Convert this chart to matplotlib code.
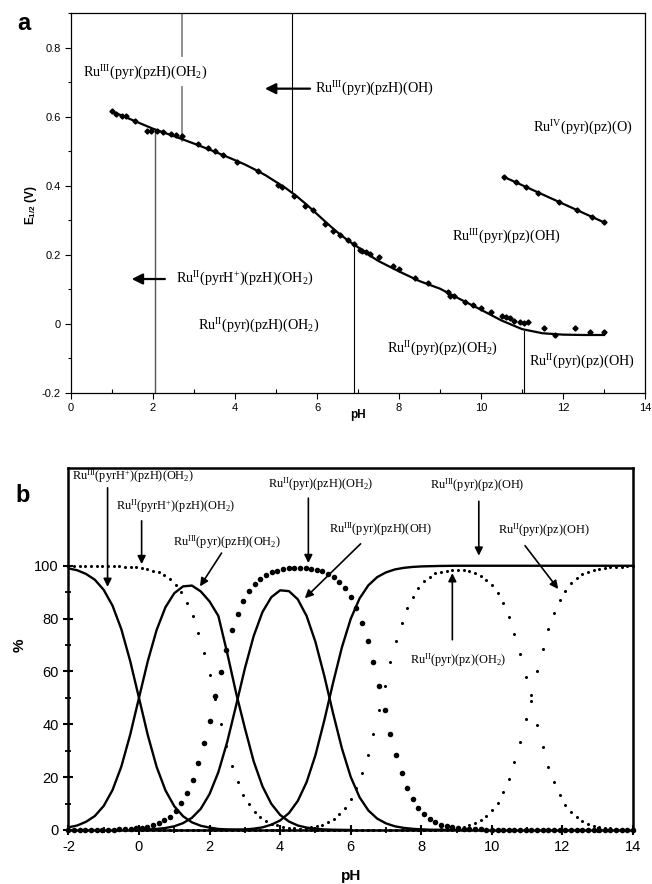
import matplotlib
matplotlib.use('Agg')
import matplotlib.pyplot as plt
from matplotlib.ticker import MultipleLocator, FixedLocator, FuncFormatter

plt.rcParams['font.family'] = 'Liberation Sans'
plt.rcParams['axes.unicode_minus'] = False
plt.rcParams['mathtext.fontset'] = 'custom'
plt.rcParams['mathtext.rm'] = 'Liberation Serif'
plt.rcParams['mathtext.it'] = 'Liberation Serif:italic'
plt.rcParams['mathtext.bf'] = 'Liberation Sans:bold'

# ---------------- Panel a data ----------------
ph_fit = [1.0, 1.5, 2.0, 2.5, 3.0, 3.5, 4.0, 4.25, 4.5, 4.75, 5.0, 5.25, 5.5,
          5.75, 6.0, 6.25, 6.5, 6.75, 7.0, 7.25, 7.5, 8.0, 8.5, 9.0, 9.5,
          10.0, 10.5, 11.0, 11.5, 12.0, 12.5, 13.0]
e_fit = [0.615, 0.590, 0.565, 0.544, 0.522, 0.499, 0.474, 0.461, 0.446, 0.430,
         0.411, 0.392, 0.370, 0.345, 0.318, 0.291, 0.265, 0.242, 0.222, 0.201,
         0.182, 0.152, 0.124, 0.102, 0.071, 0.041, 0.010, -0.015, -0.027,
         -0.031, -0.032, -0.032]
ph_pts = [1.00, 1.10, 1.25, 1.35, 1.55, 1.85, 1.95, 2.10, 2.25, 2.45, 2.55, 2.70,
          3.10, 3.35, 3.50, 3.70, 4.05, 4.55, 5.05, 5.15, 5.45, 5.70, 5.90, 6.20,
          6.40, 6.55, 6.75, 6.90, 7.05, 7.10, 7.20, 7.30, 7.50, 7.85, 8.00, 8.40,
          8.70, 9.20, 9.25, 9.35, 9.60, 9.80, 10.00, 10.25, 10.50, 10.60, 10.70,
          10.80, 10.95, 11.05, 11.15, 11.53, 11.80, 12.30, 12.67, 13.00]
e_pts = [0.617, 0.608, 0.603, 0.601, 0.588, 0.558, 0.557, 0.558, 0.556, 0.549,
         0.546, 0.545, 0.521, 0.510, 0.501, 0.488, 0.470, 0.443, 0.402, 0.395,
         0.370, 0.342, 0.330, 0.290, 0.270, 0.258, 0.244, 0.230, 0.215, 0.212,
         0.208, 0.202, 0.193, 0.168, 0.160, 0.132, 0.118, 0.092, 0.080, 0.082,
         0.063, 0.055, 0.045, 0.035, 0.022, 0.019, 0.016, 0.008, 0.005, 0.004,
         0.006, -0.011, -0.032, -0.011, -0.022, -0.022]
ph_fit2 = [10.55, 13.0]
e_fit2 = [0.426, 0.294]
ph_pts2 = [10.55, 10.85, 11.1, 11.4, 11.9, 12.35, 12.7, 13.0]
e_pts2 = [0.426, 0.410, 0.396, 0.380, 0.353, 0.329, 0.310, 0.294]

# pKa lines (pH) in panel a
pka_a = [2.05, 2.7, 5.39, 6.9, 11.05]

# ---------------- Panel b data ----------------
ph_grid = [-2.00, -1.84, -1.68, -1.52, -1.36, -1.20, -1.04, -0.88, -0.72, -0.56,
           -0.40, -0.24, -0.08, 0.08, 0.24, 0.40, 0.56, 0.72, 0.88, 1.04,
           1.20, 1.36, 1.52, 1.68, 1.84, 2.00, 2.16, 2.32, 2.48, 2.64,
           2.80, 2.96, 3.12, 3.28, 3.44, 3.60, 3.76, 3.92, 4.08, 4.24,
           4.40, 4.56, 4.72, 4.88, 5.04, 5.20, 5.36, 5.52, 5.68, 5.84,
           6.00, 6.16, 6.32, 6.48, 6.64, 6.80, 6.96, 7.12, 7.28, 7.44,
           7.60, 7.76, 7.92, 8.08, 8.24, 8.40, 8.56, 8.72, 8.88, 9.04,
           9.20, 9.36, 9.52, 9.68, 9.84, 10.00, 10.16, 10.32, 10.48, 10.64,
           10.80, 10.96, 11.12, 11.28, 11.44, 11.60, 11.76, 11.92, 12.08, 12.24,
           12.40, 12.56, 12.72, 12.88, 13.04, 13.20, 13.36, 13.52, 13.68, 13.84,
           14.00]
ru2_pyrH_pzH_OH2 = [100] * 8 + [
    99.9, 99.8, 99.7, 99.6, 99.4, 99.2, 98.8, 98.2, 97.5, 96.4, 94.9, 92.8,
    89.9, 86.0, 81.0, 74.7, 67.1, 58.6, 49.4, 40.3, 31.9, 24.4, 18.3, 13.4,
    9.7, 6.9, 4.9, 3.4, 2.4, 1.7, 1.2, 0.8, 0.6, 0.4, 0.3, 0.2, 0.1] + [0] * 56
ru2_pyr_pzH_OH2 = [0] * 8 + [
    0.1, 0.2, 0.3, 0.4, 0.6, 0.8, 1.2, 1.8, 2.5, 3.6, 5.1, 7.2, 10.1, 14.0,
    19.0, 25.3, 32.9, 41.4, 50.6, 59.7, 68.1, 75.5, 81.7, 86.6, 90.3, 93.1,
    95.1, 96.5, 97.5, 98.2, 98.7, 99.0, 99.1, 99.1, 99.0, 98.8, 98.4, 97.9,
    97.0, 95.8, 94.0, 91.6, 88.3, 84.0, 78.4, 71.5, 63.5, 54.6, 45.4, 36.5,
    28.5, 21.6, 16.0, 11.7, 8.4, 5.9, 4.2, 2.9, 2.0, 1.4, 1.0, 0.7, 0.5, 0.3,
    0.2, 0.2, 0.1] + [0] * 26
ru2_pyr_pz_OH2 = [0] * 40 + [
    0.3, 0.5, 0.7, 1.0, 1.4, 2.0, 2.9, 4.2, 5.9, 8.4, 11.6, 16.0, 21.6, 28.5,
    36.5, 45.4, 54.6, 63.5, 71.5, 78.4, 84.0, 88.3, 91.6, 94.1, 95.8, 97.1,
    97.7, 98.2, 98.4, 98.5, 98.3, 97.9, 97.2, 96.2, 94.7, 92.6, 89.7, 85.8,
    80.6, 74.2, 66.6, 58.0, 48.9, 39.8, 31.4, 24.0, 18.0, 13.2, 9.5, 6.8, 4.8,
    3.4, 2.3, 1.6, 1.1, 0.8, 0.6, 0.4, 0.3, 0.2, 0.1]
ru2_pyr_pz_OH = [0] * 66 + [
    0.3, 0.4, 0.6, 0.9, 1.2, 1.8, 2.6, 3.7, 5.2, 7.4, 10.3, 14.2, 19.4, 25.8,
    33.4, 42.0, 51.2, 60.2, 68.6, 76.0, 82.1, 86.9, 90.5, 93.3, 95.2, 96.7,
    97.7, 98.4, 98.9, 99.2, 99.5, 99.6, 99.7, 99.8, 99.9]

ph_s1 = [-2.0, -1.75, -1.5, -1.25, -1.0, -0.75, -0.5, -0.25, 0.0, 0.25, 0.5,
         0.75, 1.0, 1.25, 1.5, 1.75, 2.0, 2.25, 2.5, 2.75, 3.0]
ru3_pyrH_pzH_OH2 = [99.0, 98.3, 96.9, 94.7, 90.9, 84.9, 76.0, 64.0, 50.0, 35.9,
                    23.9, 15.0, 9.0, 5.2, 2.9, 1.6, 0.9, 0.4, 0.2, 0.1, 0.0]
ph_s2 = [-2.0, -1.75, -1.5, -1.25, -1.0, -0.75, -0.5, -0.25, 0.0, 0.25, 0.5,
         0.75, 1.0, 1.25, 1.5, 1.75, 2.0, 2.25, 2.5, 2.75, 3.0, 3.25, 3.5,
         3.75, 4.0, 4.25, 4.5, 4.75, 5.0, 5.25, 5.5, 5.75, 6.0]
ru3_pyr_pzH_OH2 = [1.0, 1.7, 3.1, 5.3, 9.1, 15.1, 24.0, 36.0, 50.0, 63.9, 75.7,
                   84.3, 89.6, 92.2, 92.5, 90.3, 86.5, 81.0, 67.0, 52.0, 38.6,
                   26.0, 16.5, 9.9, 5.7, 3.2, 1.7, 0.9, 0.5, 0.2, 0.1, 0.05, 0.0]
ph_s3 = [0.0, 0.25, 0.5, 0.75, 1.0, 1.25, 1.5, 1.75, 2.0, 2.25, 2.5, 2.75, 3.0,
         3.25, 3.5, 3.75, 4.0, 4.25, 4.5, 4.75, 5.0, 5.25, 5.5, 5.75, 6.0,
         6.25, 6.5, 6.75, 7.0, 7.25, 7.5, 7.75, 8.0, 8.25, 8.5, 8.75, 9.0]
ru3_pyr_pzH_OH = [0.1, 0.2, 0.4, 0.75, 1.4, 2.6, 4.6, 8.0, 13.6, 21.9, 33.3,
                  47.0, 61.1, 73.4, 82.5, 88.1, 90.7, 90.4, 87.3, 81.0, 71.2,
                  58.4, 44.2, 30.9, 20.1, 12.4, 7.4, 4.3, 2.5, 1.4, 0.8, 0.45,
                  0.25, 0.1, 0.08, 0.04, 0.0]
ph_s4 = [2.0, 2.5, 3.0, 3.25, 3.5, 3.75, 4.0, 4.25, 4.5, 4.75, 5.0, 5.25, 5.5,
         5.75, 6.0, 6.25, 6.5, 6.75, 7.0, 7.25, 7.5, 7.75, 8.0, 8.5, 9.0, 14.0]
ru3_pyr_pz_OH = [0.0, 0.05, 0.2, 0.5, 1.0, 2.0, 3.6, 6.4, 11.0, 18.1, 28.3,
                 41.4, 55.7, 69.1, 79.9, 87.6, 92.6, 95.7, 97.5, 98.6, 99.2,
                 99.55, 99.75, 99.92, 100, 100]

SERIF = 'Liberation Serif'

fig = plt.figure(figsize=(6.52, 8.84), dpi=100)

# ================= Panel a =================
axa = fig.add_axes([0.1089, 0.5554, 0.8804, 0.4299])
axa.set_xlim(0, 14)
axa.set_ylim(-0.2, 0.9)
axa.plot(ph_fit, e_fit, color='black', lw=1.6, zorder=3)
axa.plot(ph_pts, e_pts, 'D', color='black', ms=2.6, zorder=4)
axa.plot(ph_fit2, e_fit2, color='black', lw=1.6, zorder=3)
axa.plot(ph_pts2, e_pts2, 'D', color='black', ms=2.6, zorder=4)

# vertical pKa lines
axa.plot([pka_a[0], pka_a[0]], [0.560, -0.2], color='#555555', lw=1.0)
axa.plot([pka_a[1], pka_a[1]], [0.9, 0.775], color='#888888', lw=1.3)
axa.plot([pka_a[1], pka_a[1]], [0.685, 0.530], color='#888888', lw=1.3)
axa.plot([pka_a[2], pka_a[2]], [0.9, 0.381], color='black', lw=0.8)
axa.plot([pka_a[3], pka_a[3]], [0.232, -0.2], color='black', lw=0.8)
axa.plot([pka_a[4], pka_a[4]], [-0.020, -0.2], color='black', lw=0.8)

arr = dict(arrowstyle='-|>', color='black', lw=1.6, mutation_scale=16,
           shrinkA=0, shrinkB=0)
axa.annotate('', xy=(4.73, 0.681), xytext=(5.83, 0.681), arrowprops=arr)
axa.annotate('', xy=(1.48, 0.130), xytext=(2.29, 0.130), arrowprops=arr)

fs_a = 10.2
ta = [
    (0.29, 0.727, r'Ru$^{\mathrm{III}}$(pyr)(pzH)(OH$_2$)'),
    (5.95, 0.680, r'Ru$^{\mathrm{III}}$(pyr)(pzH)(OH)'),
    (11.27, 0.568, r'Ru$^{\mathrm{IV}}$(pyr)(pz)(O)'),
    (9.30, 0.252, r'Ru$^{\mathrm{III}}$(pyr)(pz)(OH)'),
    (2.55, 0.130, r'Ru$^{\mathrm{II}}$(pyrH$^{+}$)(pzH)(OH$_2$)'),
    (3.10, -0.005, r'Ru$^{\mathrm{II}}$(pyr)(pzH)(OH$_2$)'),
    (7.70, -0.073, r'Ru$^{\mathrm{II}}$(pyr)(pz)(OH$_2$)'),
    (11.17, -0.110, r'Ru$^{\mathrm{II}}$(pyr)(pz)(OH)'),
]
for x, y, s in ta:
    axa.text(x, y, s, family=SERIF, fontsize=fs_a, ha='left', va='center')

axa.xaxis.set_major_locator(MultipleLocator(2))
axa.xaxis.set_minor_locator(MultipleLocator(1))
axa.yaxis.set_major_locator(MultipleLocator(0.2))
axa.yaxis.set_minor_locator(MultipleLocator(0.1))
axa.yaxis.set_major_formatter(FuncFormatter(lambda v, p: '%g' % round(v, 2)))
axa.tick_params(axis='both', which='major', direction='out', length=4,
                width=0.8, labelsize=8)
axa.tick_params(axis='x', which='minor', direction='in', length=3, width=0.8)
axa.tick_params(axis='y', which='minor', direction='out', length=2.5, width=0.8)
for sp in axa.spines.values():
    sp.set_linewidth(0.9)
axa.text(0.5, -0.058, 'pH', transform=axa.transAxes, ha='center', va='center',
         fontsize=8.5, fontweight='bold')
axa.text(-0.070, 0.495, r'E$_{\mathbf{1/2}}$ (V)', transform=axa.transAxes,
         ha='center', va='center', rotation=90, fontsize=8.5, fontweight='bold')
fig.text(0.037, 0.973, 'a', fontsize=17, fontweight='bold', ha='center',
         va='center')

# ================= Panel b =================
axb = fig.add_axes([0.1049, 0.0611, 0.866, 0.4095])
axb.set_xlim(-2, 14)
axb.set_ylim(0, 137)

axb.plot(ph_s1, ru3_pyrH_pzH_OH2, color='black', lw=1.7, zorder=3)
axb.plot(ph_s2, ru3_pyr_pzH_OH2, color='black', lw=1.7, zorder=3)
axb.plot(ph_s3, ru3_pyr_pzH_OH, color='black', lw=1.7, zorder=3)
axb.plot(ph_s4, ru3_pyr_pz_OH, color='black', lw=1.7, zorder=3, clip_on=False)

axb.plot(ph_grid, ru2_pyrH_pzH_OH2, 'o', color='black', ms=2.2, mew=0,
         zorder=4, clip_on=False)
axb.plot(ph_grid, ru2_pyr_pzH_OH2, 'o', color='black', ms=4.0, mew=0,
         zorder=4, clip_on=False)
axb.plot(ph_grid, ru2_pyr_pz_OH2, 'o', color='black', ms=2.2, mew=0,
         zorder=4, clip_on=False)
axb.plot(ph_grid, ru2_pyr_pz_OH, 'o', color='black', ms=2.2, mew=0,
         zorder=4, clip_on=False)

arrb = dict(arrowstyle='-|>', color='black', lw=1.2, mutation_scale=12,
            shrinkA=0, shrinkB=0)
fs_b = 8.8
tb = [
    (-0.16, 134.0, r'Ru$^{\mathrm{III}}$(pyrH$^{+}$)(pzH)(OH$_2$)'),
    (1.05, 122.4, r'Ru$^{\mathrm{II}}$(pyrH$^{+}$)(pzH)(OH$_2$)'),
    (2.50, 109.0, r'Ru$^{\mathrm{III}}$(pyr)(pzH)(OH$_2$)'),
    (5.15, 130.7, r'Ru$^{\mathrm{II}}$(pyr)(pzH)(OH$_2$)'),
    (6.85, 113.8, r'Ru$^{\mathrm{III}}$(pyr)(pzH)(OH)'),
    (9.59, 130.3, r'Ru$^{\mathrm{III}}$(pyr)(pz)(OH)'),
    (11.46, 113.3, r'Ru$^{\mathrm{II}}$(pyr)(pz)(OH)'),
    (9.06, 64.4, r'Ru$^{\mathrm{II}}$(pyr)(pz)(OH$_2$)'),
]
for x, y, s in tb:
    axb.text(x, y, s, family=SERIF, fontsize=fs_b, ha='center', va='center')

arrows_b = [
    ((-0.89, 92.0), (-0.89, 129.5)),
    ((0.075, 100.6), (0.075, 117.0)),
    ((1.73, 92.2), (2.34, 104.8)),
    ((4.80, 101.0), (4.80, 125.6)),
    ((4.70, 87.7), (6.28, 108.3)),
    ((9.63, 103.8), (9.63, 124.4)),
    ((11.88, 91.2), (10.94, 107.6)),
    ((8.88, 97.2), (8.88, 72.0)),
]
for tip, tail in arrows_b:
    axb.annotate('', xy=tip, xytext=tail, arrowprops=arrb)

axb.xaxis.set_major_locator(MultipleLocator(2))
axb.xaxis.set_minor_locator(MultipleLocator(1))
axb.yaxis.set_major_locator(FixedLocator([0, 20, 40, 60, 80, 100]))
axb.yaxis.set_minor_locator(FixedLocator([10, 30, 50, 70, 90]))
axb.tick_params(axis='both', which='major', direction='inout', length=7,
                width=1.5, labelsize=10.5)
axb.tick_params(axis='both', which='minor', direction='inout', length=5,
                width=1.3)
for sp in axb.spines.values():
    sp.set_linewidth(1.8)
axb.text(0.5, -0.127, 'pH', transform=axb.transAxes, ha='center', va='center',
         fontsize=11, fontweight='bold')
axb.text(-0.086, 0.511, '%', transform=axb.transAxes, ha='center',
         va='center', rotation=90, fontsize=11, fontweight='bold')
fig.text(0.034, 0.440, 'b', fontsize=17, fontweight='bold', ha='center',
         va='center')

fig.savefig('out.png', dpi=100)
